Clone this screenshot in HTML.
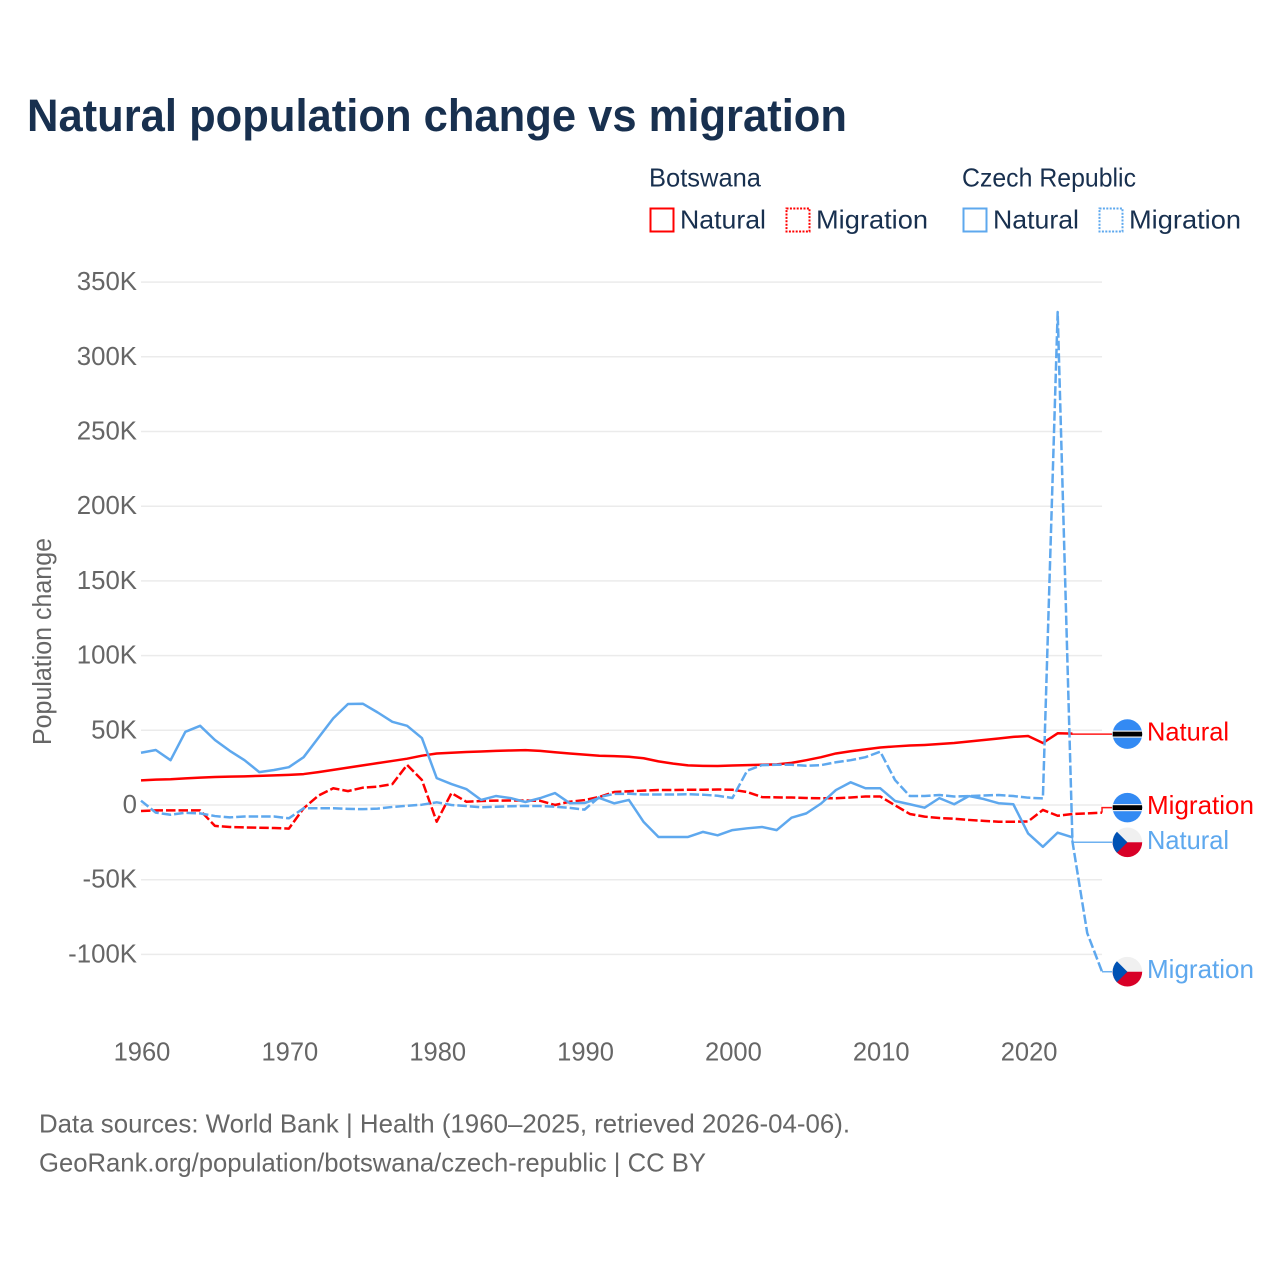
<!DOCTYPE html>
<html lang="en">
<head>
<meta charset="utf-8">
<title>Natural population change vs migration</title>
<style>
html,body{margin:0;padding:0;background:#fff;}
svg{display:block;font-family:"Liberation Sans",sans-serif;}
</style>
</head>
<body>
<svg id="chart" width="1280" height="1280" viewBox="0 0 1280 1280" xmlns="http://www.w3.org/2000/svg">
  <defs>
    <clipPath id="flag-clip"><circle cx="0" cy="0" r="14.8"></circle></clipPath>
  </defs>
  <rect x="0" y="0" width="1280" height="1280" fill="#fff"></rect>
  <text x="27" y="131" font-size="45" font-weight="700" fill="#18304f" textLength="820" lengthAdjust="spacingAndGlyphs">Natural population change vs migration</text>

  <g font-size="26" fill="#18304f">
    <text x="649" y="186.5" textLength="112" lengthAdjust="spacingAndGlyphs">Botswana</text>
    <text x="962" y="186.5" textLength="174" lengthAdjust="spacingAndGlyphs">Czech Republic</text>
    <g>
      <rect x="650.5" y="208.5" width="23" height="23" fill="none" stroke="#ff0000" stroke-width="2"></rect>
      <text x="680" y="228.5" textLength="86" lengthAdjust="spacingAndGlyphs">Natural</text>
    </g>
    <g>
      <rect x="786.5" y="208.5" width="23" height="23" fill="none" stroke="#ff0000" stroke-width="2" stroke-dasharray="2 1.4"></rect>
      <text x="816" y="228.5" textLength="112" lengthAdjust="spacingAndGlyphs">Migration</text>
    </g>
    <g>
      <rect x="963.5" y="208.5" width="23" height="23" fill="none" stroke="#5ea8ee" stroke-width="2"></rect>
      <text x="993" y="228.5" textLength="86" lengthAdjust="spacingAndGlyphs">Natural</text>
    </g>
    <g>
      <rect x="1099.5" y="208.5" width="23" height="23" fill="none" stroke="#5ea8ee" stroke-width="2" stroke-dasharray="2 1.4"></rect>
      <text x="1129" y="228.5" textLength="112" lengthAdjust="spacingAndGlyphs">Migration</text>
    </g>
  </g>

  <g id="grid"></g>
  <g id="y-ticks"></g>
  <g id="x-ticks"></g>
  <text transform="translate(51,745) rotate(-90)" font-size="25.5" fill="#666" textLength="207" lengthAdjust="spacingAndGlyphs">Population change</text>
  <g id="series"></g>
  <g id="end-labels"></g>

  <g font-size="26" fill="#666">
    <text x="39" y="1132.5" textLength="811" lengthAdjust="spacingAndGlyphs">Data sources: World Bank | Health (1960–2025, retrieved 2026-04-06).</text>
    <text x="39" y="1171.5" textLength="667" lengthAdjust="spacingAndGlyphs">GeoRank.org/population/botswana/czech-republic | CC BY</text>
  </g>
</svg>
<script>
const years = [1960,1961,1962,1963,1964,1965,1966,1967,1968,1969,1970,1971,1972,1973,1974,1975,1976,1977,1978,1979,1980,1981,1982,1983,1984,1985,1986,1987,1988,1989,1990,1991,1992,1993,1994,1995,1996,1997,1998,1999,2000,2001,2002,2003,2004,2005,2006,2007,2008,2009,2010,2011,2012,2013,2014,2015,2016,2017,2018,2019,2020,2021,2022,2023,2024,2025];
const yTickValues = [350,300,250,200,150,100,50,0,-50,-100];
const yTickLabels = ["350K","300K","250K","200K","150K","100K","50K","0","-50K","-100K"];
const xTickValues = [1960,1970,1980,1990,2000,2010,2020];
const xTickLabels = ["1960","1970","1980","1990","2000","2010","2020"];

const botswanaNatural = [16.5,17,17.2,17.8,18.3,18.7,19,19.2,19.5,19.8,20.2,20.7,22,23.5,25,26.5,28,29.5,31,33,34.5,35,35.5,35.8,36.2,36.5,36.7,36.2,35.3,34.5,33.7,33,32.7,32.3,31.3,29.2,27.7,26.5,26.2,26.1,26.4,26.7,26.9,27.2,28.2,30,32,34.5,36,37.2,38.5,39.2,39.8,40.2,40.8,41.5,42.5,43.5,44.5,45.6,46.2,41.5,48,47.8];
const botswanaMigration = [-4,-3.6,-3.6,-3.6,-3.6,-14,-14.7,-15,-15.2,-15.4,-15.8,-2.2,6.3,11.2,9.3,11.6,12.3,14,26.8,16.7,-11.2,8,2.2,2.7,2.9,3,3,2.8,0,2.2,3.3,5.4,8.7,9.2,9.6,10,10,10.2,10.2,10.4,10.2,8.7,5.3,5.1,5,4.7,4.5,4.5,5,5.7,5.7,-0.2,-6,-7.8,-8.7,-9.2,-10,-10.6,-11.2,-11.2,-11,-3.3,-7.2,-6,-5.6,-5.1];
const czechNatural = [35,36.8,30,49,53,43.5,36.3,30,22,23.4,25.3,32,45,58,67.6,67.8,62,55.7,53,44.8,18,14,10.7,3.4,6,4.6,2,4.6,8,1.2,1.3,4.7,1.1,3.4,-11.4,-21.4,-21.4,-21.4,-18,-20.3,-16.8,-15.6,-14.7,-16.8,-8.5,-5.6,1,10,15.2,11.2,11.2,2.7,0.5,-1.8,4.6,0.5,6,4,1.2,0.5,-19,-28,-18.5,-21.6];
const czechMigration = [2.9,-5.1,-6.5,-5.2,-5.6,-7.4,-8.3,-7.7,-7.7,-7.7,-8.9,-2.2,-2.2,-2.2,-2.6,-2.8,-2.4,-1.3,-0.5,0.2,1.8,0,-0.7,-1.5,-1.2,-0.8,-0.6,-0.7,-1.1,-1.9,-3.1,5.3,7.4,7.5,7,7,7,7.2,6.9,6.2,4.7,23,26.7,26.9,26.9,26.3,26.7,28.6,30,32,35.7,16.7,6,6,6.7,5.7,6,6.4,6.7,6,4.9,4.4,330,-24.5,-85.7,-111.6];

const NS = "http://www.w3.org/2000/svg";
const RED = "#ff0000";
const BLUE = "#5ea8ee";
function x(year){ return 141 + (year - 1960) * 14.785; }
function y(v){ return 805 - v * 1.494; }
function make(tag, parent, attrs, text){
  const el = document.createElementNS(NS, tag);
  for (const k in attrs) el.setAttribute(k, attrs[k]);
  if (text !== undefined) el.textContent = text;
  parent.appendChild(el);
  return el;
}

const gridG = document.getElementById("grid");
const yG = document.getElementById("y-ticks");
yTickValues.forEach(function(v, i){
  const line = make("line", gridG, {x1:x(1960), x2:x(2025), y1:y(v), y2:y(v), stroke:"#ebebeb", "stroke-width":1.5});
  
  
  const t = make("text", yG, {x:137, y:y(v)+8, "text-anchor":"end", "font-size":25.8, fill:"#666"}, yTickLabels[i]);
  
  
});

const xG = document.getElementById("x-ticks");
xTickValues.forEach(function(v, i){
  const t = make("text", xG, {x:x(v)+1, y:1060.5, "text-anchor":"middle", "font-size":25.5, fill:"#666"}, xTickLabels[i]);
  
  
});

const seriesG = document.getElementById("series");
function pathFor(values){
  return values.map(function(v, i){ return (i ? "L" : "M") + x(years[i]).toFixed(2) + " " + y(v).toFixed(2); }).join(" ");
}

const lineBwNatural = make("path", seriesG, {d:pathFor(botswanaNatural), fill:"none", stroke:RED, "stroke-width":2.5, "stroke-linejoin":"round"});


const lineBwMigration = make("path", seriesG, {d:pathFor(botswanaMigration), fill:"none", stroke:RED, "stroke-width":2.5, "stroke-dasharray":"9.5 3", "stroke-linejoin":"round"});


const lineCzNatural = make("path", seriesG, {d:pathFor(czechNatural), fill:"none", stroke:BLUE, "stroke-width":2.5, "stroke-linejoin":"round"});


const lineCzMigration = make("path", seriesG, {d:pathFor(czechMigration), fill:"none", stroke:BLUE, "stroke-width":2.5, "stroke-dasharray":"9.5 3", "stroke-linejoin":"round"});



const labelsG = document.getElementById("end-labels");
function flagBotswana(g){
  make("rect", g, {x:-16, y:-16, width:32, height:32, fill:"#338af3"});
  make("rect", g, {x:-16, y:-3.6, width:32, height:7.2, fill:"#f0f0f0"});
  make("rect", g, {x:-16, y:-2.4, width:32, height:4.8, fill:"#000"});
}
function flagCzech(g){
  make("rect", g, {x:-16, y:-16, width:32, height:16, fill:"#f0f0f0"});
  make("rect", g, {x:-16, y:0, width:32, height:16, fill:"#d80027"});
  make("polygon", g, {points:"-11,-11 0,0 -11,11 -16,11 -16,-11", fill:"#0052b4"});
}
function endLabel(values, dodge, colour, name, flag, width){
  const lastIndex = values.length - 1;
  const endY = y(values[lastIndex]);
  const labelY = endY + dodge;
  const group = make("g", labelsG, {});
  const ex = x(years[lastIndex]);
  make("path", group, {d:"M" + ex + " " + endY + " L" + ex + " " + labelY + " L1112 " + labelY, fill:"none", stroke:colour, "stroke-width":1.5, opacity:0.9});
  const f = make("g", group, {transform:"translate(1127.4," + labelY + ")", "clip-path":"url(#flag-clip)"});
  flag(f);
  make("text", group, {x:1147, y:labelY+6.5, "font-size":26, fill:colour, textLength:width, lengthAdjust:"spacingAndGlyphs"}, name);
  return group;
}

const endBwNatural = endLabel(botswanaNatural, 0.5, RED, "Natural", flagBotswana, 82);


const endBwMigration = endLabel(botswanaMigration, -5, RED, "Migration", flagBotswana, 107);


const endCzNatural = endLabel(czechNatural, 5, BLUE, "Natural", flagCzech, 82);


const endCzMigration = endLabel(czechMigration, 0, BLUE, "Migration", flagCzech, 107);


</script>
</body>
</html>
